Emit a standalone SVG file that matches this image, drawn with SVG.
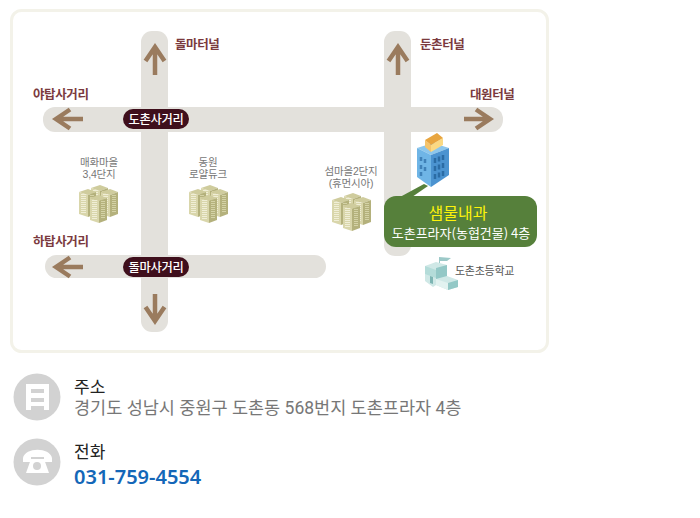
<svg xmlns="http://www.w3.org/2000/svg" width="700" height="518" viewBox="0 0 700 518">
<style>
text{font-family:"Noto Sans CJK KR","Noto Sans",sans-serif}
.road{fill:#e3e1dc}
.arr{fill:none;stroke:#9a7b5e;stroke-width:4.5}
.place{font-size:12.500px;font-weight:700;fill:#7b3a3e;letter-spacing:-.4px}
.pill{fill:#3f0f1c}
.pillt{font-size:12.300px;font-weight:500;fill:#fff;text-anchor:middle;letter-spacing:-.3px}
.small{font-family:"Liberation Sans","Noto Sans CJK KR",sans-serif;font-size:10.500px;fill:#777;text-anchor:middle;letter-spacing:-.2px}
.head{font-family:"Liberation Sans","Noto Sans CJK KR",sans-serif;font-size:17px;fill:#222}
.addr{font-family:Roboto,"Noto Sans CJK KR",sans-serif;font-size:17.500px;fill:#777}
</style>
<defs>
<g id="tower">
<path d="M0 3 9 0 17 3 9 6Z" fill="#cfcc9d"/>
<path d="M0 3 9 6V28L0 25Z" fill="#d9d6ab"/>
<path d="M9 6 17 3V25L9 28Z" fill="#b4b17c"/>
<path d="M4.500 5V25" fill="none" stroke="#f0eed6" stroke-width="5" stroke-dasharray="1 1"/>
<path d="M13 6V24" fill="none" stroke="#d4d2a6" stroke-width="4" stroke-dasharray="1 1"/>
</g>
<g id="apt">
<use href="#tower" x="12" y="0"/>
<use href="#tower" x="0" y="4"/>
<use href="#tower" x="22" y="4"/>
<use href="#tower" x="11" y="10"/>
</g>
</defs>
<rect x="11.500" y="10.500" width="536" height="341" rx="10" fill="#fff" stroke="#f3f2e9" stroke-width="3"/>
<g id="connectors">
<rect class="road" x="141" y="31" width="27" height="301" rx="11"/>
<rect class="road" x="384" y="31" width="27" height="225" rx="11"/>
<rect class="road" x="43" y="107" width="460" height="25" rx="12"/>
<rect class="road" x="45" y="255" width="281" height="23" rx="11.500"/>
<path class="arr" d="M155 75V47M145.500 61 155 47 164.500 61"/>
<path class="arr" d="M398 75V47M388.500 61 398 47 407.500 61"/>
<path class="arr" d="M83 119H56M70 109.500 56 119 70 128.500"/>
<path class="arr" d="M464 119H490M476 109.500 490 119 476 128.500"/>
<path class="arr" d="M83 267H56M70 257.500 56 267 70 276.500"/>
<path class="arr" d="M155 294V321M145.500 307 155 321 164.500 307"/>
<path d="M400 197 424 184 428 186 412 197Z" fill="#56803b"/>
</g>
<g id="label-dolma-terminal"><text class="place" x="175" y="49">돌마터널</text></g>
<g id="label-dunchon-terminal"><text class="place" x="420" y="49">둔촌터널</text></g>
<g id="label-atap"><text class="place" x="33" y="99">야탑사거리</text></g>
<g id="label-daewon"><text class="place" x="470" y="99">대원터널</text></g>
<g id="label-hatap"><text class="place" x="33" y="246">하탑사거리</text></g>
<g id="pill-dochon"><rect class="pill" x="123" y="109" width="66" height="20" rx="10"/><text class="pillt" x="156" y="124">도촌사거리</text></g>
<g id="pill-dolma"><rect class="pill" x="123" y="257" width="66" height="20" rx="10"/><text class="pillt" x="156" y="272">돌마사거리</text></g>
<g id="apt-maehwa"><text class="small" x="99" y="166">매화마을</text><text class="small" x="99" y="178">3,4단지</text><use href="#apt" x="79" y="185"/></g>
<g id="apt-dongwon"><text class="small" x="208" y="166">동원</text><text class="small" x="208" y="178">로얄듀크</text><use href="#apt" x="189" y="185"/></g>
<g id="apt-seom"><text class="small" x="351" y="175">섬마을2단지</text><text class="small" x="351" y="187">(휴먼시아)</text><use href="#apt" x="332" y="193"/></g>
<g id="building">
<path d="M417 148 433 143 449 148 431 155Z" fill="#8cc6ec"/>
<path d="M431 155 449 148V175L431 187Z" fill="#4b93d0"/>
<path d="M417 148 431 155V187L417 177Z" fill="#6fb5e6"/>
<path d="M435 158V163M439 156.500V161.500M443 155V160M435 166V171M439 164.500V169.500M443 163V168M435 174V179M439 172.500V177.500M443 171V176" stroke="#2b6ca5" stroke-width="2.500" fill="none"/>
<path d="M421 157V161M425 159V163M421 165V169M425 167V171M421 172V176" stroke="#3f81b8" stroke-width="2.500" fill="none"/>
<path d="M425 140 431 145V152L425 147Z" fill="#f5c46b"/>
<path d="M431 145 443 138V145L431 152Z" fill="#fbd983"/>
<path d="M425 140 437 133 443 138 431 145Z" fill="#e8a53f"/>
</g>
<g id="callout">
<rect x="384" y="196" width="153" height="51" rx="12" fill="#56803b"/>
<text x="458" y="219" font-size="16" fill="#fdf30a" text-anchor="middle">샘물내과</text>
<text x="461" y="238" font-size="13" fill="#fff" text-anchor="middle">도촌프라자(농협건물) 4층</text>
</g>
<g id="school">
<path d="M425 266 436 262 447 265 447 276 458 280 458 287 448 290 436 285 433 287 425 281Z" fill="#cfe8e6"/>
<path d="M436 268 447 265V276L436 279ZM448 283 458 280V287L448 290Z" fill="#93c8c6"/>
<path d="M425 266 436 270V278L425 274Z" fill="#b4dcd9"/>
<path d="M436 279 448 283V290L436 285Z" fill="#e2f2f0"/>
<path d="M430 276 433 277V284L430 283Z" fill="#7db5b3"/>
<path d="M439 263V257L451 258 447 261 440 261V263Z" fill="#9cc9c8"/>
<text x="455" y="275" font-size="11" fill="#555" letter-spacing="-.25">도촌초등학교</text>
</g>
<g id="address">
<circle cx="37" cy="397" r="23.500" fill="#d2d2d2"/>
<path d="M26 384H49V410H44V406H31V410H26ZM31 389V393H44V389ZM31 398V402H44V398Z" fill="#fff" fill-rule="evenodd"/>
<text class="head" x="74" y="393">주소</text>
<text class="addr" x="74" y="414">경기도 성남시 중원구 도촌동 568번지 도촌프라자 4층</text>
</g>
<g id="phone">
<circle cx="37" cy="462" r="23.500" fill="#d2d2d2"/>
<path d="M23 458C25 447 50 447 52 458V462H44V457H31V462H23Z" fill="#fff"/>
<path d="M31 459H44L49 473H26Z" fill="#fff"/>
<circle cx="37" cy="466" r="4" fill="#d2d2d2"/>
<text class="head" x="74" y="458">전화</text>
<text x="74" y="484" font-size="20" font-weight="600" fill="#1467b8" style="font-family:'Noto Sans',sans-serif">031-759-4554</text>
</g>
</svg>
